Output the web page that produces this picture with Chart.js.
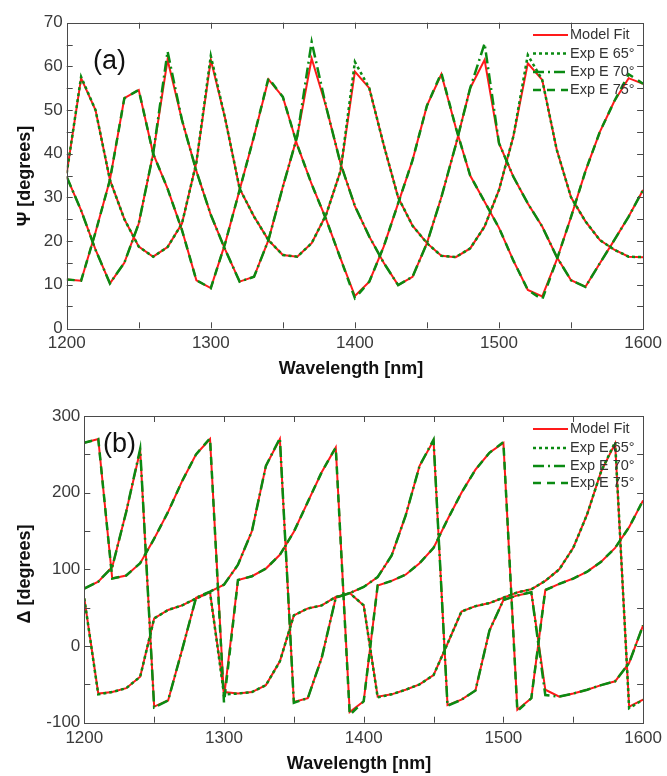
<!DOCTYPE html>
<html>
<head>
<meta charset="utf-8">
<script src="https://cdn.jsdelivr.net/npm/chart.js@4.4.1/dist/chart.umd.min.js"></script>
<style>
  body { margin: 0; background: #fff; width: 667px; height: 776px; position: relative; overflow: hidden; }
  .panel { position: absolute; left: 0; width: 667px; }
</style>
</head>
<body>
<div class="panel" style="top:0;height:385px"><canvas id="psiChart"></canvas></div>
<div class="panel" style="top:385px;height:391px"><canvas id="deltaChart"></canvas></div>
<script>
// wavelength grid (nm)
const wavelength = [1200, 1210, 1220, 1230, 1240, 1250, 1260, 1270, 1280, 1290, 1300,
  1310, 1320, 1330, 1340, 1350, 1360, 1370, 1380, 1390, 1400,
  1410, 1420, 1430, 1440, 1450, 1460, 1470, 1480, 1490, 1500,
  1510, 1520, 1530, 1540, 1550, 1560, 1570, 1580, 1590, 1600];

// Psi, model fit
const psiFit65 = [35.5, 57.3, 50, 34, 25, 18.7, 16.4, 18.6, 24, 38, 61.5,
  48, 32, 25.6, 20.2, 16.8, 16.4, 19.5, 26, 36, 58.8,
  55, 42, 30, 23.5, 19.5, 16.6, 16.3, 18.3, 23.3, 31.7,
  44, 60.7, 56.9, 41, 30, 24.5, 20.2, 18, 16.4, 16.3];
const psiFit70 = [34.7, 27, 18, 10.3, 15, 24, 40, 61.5, 47.7, 36, 26,
  18, 10.7, 11.8, 20.2, 32.4, 44, 61.8, 50.8, 37.8, 28,
  21, 15, 9.9, 11.8, 19.5, 30, 42, 55, 61.5, 42.4,
  34.7, 28.6, 23.3, 16.4, 11, 9.5, 14.9, 20.2, 25.6, 31.7];
const psiFit75 = [11.2, 10.9, 22, 34, 52.7, 54.6, 40, 32, 22.5, 11, 9.2,
  19.5, 31.7, 44, 57, 53, 42, 33, 25, 16, 7.4,
  10.7, 18.7, 28.6, 38.5, 51, 58.2, 46, 35, 29, 23,
  15.5, 8.8, 7.3, 15.6, 25.5, 36, 45, 52, 57.3, 56];

// Psi, experiment
const psiExp65 = [35.5, 57.6, 50, 34, 25, 18.7, 16.4, 18.6, 24, 38, 62.4,
  48, 32, 25.6, 20.2, 16.8, 16.4, 19.5, 26, 36, 61,
  55, 42, 30, 23.5, 19.5, 16.6, 16.3, 18.3, 23.3, 31.7,
  44, 62.6, 56.9, 41, 30, 24.5, 20.2, 18, 16.4, 16.3];
const psiExp70 = [34.7, 27, 18, 10.3, 15, 24, 40, 63.4, 47.7, 36, 26,
  18, 10.7, 11.8, 20.2, 32.4, 44, 65.6, 50.8, 37.8, 28,
  21, 15, 9.9, 11.8, 19.5, 30, 42, 55, 65.2, 42.4,
  34.7, 28.6, 23.3, 16.4, 11, 9.5, 14.9, 20.2, 25.6, 31.7];
const psiExp75 = [11.2, 10.9, 22, 34, 52.7, 54.6, 40, 32, 22.5, 11, 9.2,
  19.5, 31.7, 44, 57.3, 53, 42, 33, 25, 16, 6.9,
  10.7, 18.7, 28.6, 38.5, 51, 58.5, 46, 35, 29, 23,
  15.5, 8.8, 6.6, 15.6, 25.5, 36, 45, 52, 58.2, 56];

// Delta, model fit
const deltaFit65 = [62, -62, -60, -55, -40, 36, 47, 53, 62, 70, -60,
  -62, -60, -51, -20, 40, 49, 53, 64, 69, 53,
  -66, -63, -57, -50, -38, 3, 45, 52, 56, 63,
  70, 74, 85, 100, 128, 172, 228, 264, -79, -70];
const deltaFit70 = [75, 84, 103, 175, 255, -79, -71, -5, 63, 71, 80,
  106, 150, 235, 270, -73, -68, -15, 63, 69, 77,
  90, 118, 170, 235, 268, -77, -70, -58, 20, 60,
  66, 70, -57, -66, -62, -57, -51, -46, -22, 27];
const deltaFit75 = [265, 270, 88, 92, 108, 140, 175, 215, 250, 270, -67,
  86, 91, 101, 119, 149, 188, 227, 259, -86, -72,
  79, 85, 93, 108, 128, 165, 200, 230, 252, 265,
  -83, -68, 73, 81, 88, 97, 110, 128, 155, 190];

// Delta, experiment
const deltaExp65 = [62, -63, -60, -55, -40, 36, 47, 53, 62, 70, -63,
  -62, -60, -51, -20, 40, 49, 53, 64, 69, 53,
  -67, -63, -57, -50, -38, 3, 45, 52, 56, 63,
  70, 74, 85, 100, 128, 172, 228, 266, -81, -70];
const deltaExp70 = [75, 84, 103, 175, 257, -80, -71, -5, 63, 71, 80,
  106, 150, 235, 271, -74, -68, -15, 63, 69, 77,
  90, 118, 170, 235, 269, -78, -70, -58, 20, 60,
  66, 70, -64, -66, -62, -57, -51, -46, -22, 27];
const deltaExp75 = [265, 270, 88, 92, 108, 140, 175, 215, 250, 271, -74,
  86, 91, 101, 119, 149, 188, 227, 259, -90, -72,
  79, 85, 93, 108, 128, 165, 200, 230, 252, 266,
  -85, -68, 73, 81, 88, 97, 110, 128, 155, 190];

// axis ticks
const xLabelStep = 100;
const xTickMarks = [1250, 1300, 1350, 1400, 1450, 1500, 1550];
const psiTickMarks = [5, 10, 15, 20, 25, 30, 35, 40, 45, 50, 55, 60, 65];
const deltaTickMarks = [-50, 0, 50, 100, 150, 200, 250];
const legendLabels = ['Model Fit', 'Exp E 65°', 'Exp E 70°', 'Exp E 75°'];

const RED = '#ff1a1a';
const GREEN = '#0a8a12';
const FONT = '"Liberation Sans", Arial, sans-serif';

function series(ys) {
  return ys.map((y, i) => ({ x: wavelength[i], y: y }));
}

function makeDatasets(e65, e70, e75, f65, f70, f75) {
  const line = { pointRadius: 0, fill: false, tension: 0 };
  // green first so it sits on top of the red fit
  return [
    Object.assign({ label: 'Exp E 65°', data: series(e65), borderColor: GREEN, borderWidth: 2.5, borderDash: [3, 3] }, line),
    Object.assign({ label: 'Exp E 70°', data: series(e70), borderColor: GREEN, borderWidth: 2.5, borderDash: [11, 4, 2, 4] }, line),
    Object.assign({ label: 'Exp E 75°', data: series(e75), borderColor: GREEN, borderWidth: 2.5, borderDash: [8, 6] }, line),
    Object.assign({ label: 'Model Fit', data: series(f65), borderColor: RED, borderWidth: 2 }, line),
    Object.assign({ label: 'Model Fit', data: series(f70), borderColor: RED, borderWidth: 2 }, line),
    Object.assign({ label: 'Model Fit', data: series(f75), borderColor: RED, borderWidth: 2 }, line)
  ];
}

// box, inward ticks, titles, panel tag and legend
const decorPlugin = {
  id: 'decor',
  afterDatasetsDraw(chart, args, o) {
    const ctx = chart.ctx;
    const a = chart.chartArea;
    const xs = chart.scales.x, ys = chart.scales.y;
    ctx.save();
    ctx.strokeStyle = '#4a4a4a';
    ctx.lineWidth = 1;
    ctx.setLineDash([]);
    ctx.strokeRect(Math.round(a.left) + 0.5, Math.round(a.top) + 0.5,
      Math.round(a.right - a.left), Math.round(a.bottom - a.top));
    ctx.beginPath();
    xTickMarks.forEach(v => {
      const px = Math.round(xs.getPixelForValue(v)) + 0.5;
      ctx.moveTo(px, a.bottom); ctx.lineTo(px, a.bottom - 6);
      ctx.moveTo(px, a.top); ctx.lineTo(px, a.top + 6);
    });
    o.yMarks.forEach(v => {
      const py = Math.round(ys.getPixelForValue(v)) + 0.5;
      ctx.moveTo(a.left, py); ctx.lineTo(a.left + 6, py);
      ctx.moveTo(a.right, py); ctx.lineTo(a.right - 6, py);
    });
    ctx.stroke();

    // axis titles
    ctx.fillStyle = '#111';
    ctx.font = 'bold 18px ' + FONT;
    ctx.textAlign = 'center';
    ctx.textBaseline = 'middle';
    ctx.fillText('Wavelength [nm]', o.xTitle[0], o.xTitle[1]);
    ctx.save();
    ctx.translate(o.yTitle[0], o.yTitle[1]);
    ctx.rotate(-Math.PI / 2);
    ctx.fillText(o.yTitleText, 0, 0);
    ctx.restore();

    // panel tag
    ctx.font = '27px ' + FONT;
    ctx.textAlign = 'left';
    ctx.fillText(o.tag, o.tagPos[0], o.tagPos[1]);

    // legend
    ctx.font = '14.5px ' + FONT;
    ctx.fillStyle = '#333';
    legendLabels.forEach((lab, i) => {
      const ds = chart.data.datasets.find(d => d.label === lab);
      const y = o.legendY[i];
      ctx.beginPath();
      ctx.strokeStyle = ds.borderColor;
      ctx.lineWidth = ds.borderWidth;
      ctx.setLineDash(ds.borderDash || []);
      ctx.moveTo(533, y); ctx.lineTo(568, y);
      ctx.stroke();
      ctx.fillText(lab, 570, y);
    });
    ctx.restore();
  }
};

function makeChart(id, datasets, yMin, yMax, yStep, pad, yWidth, xHeight, decor) {
  const tickFont = { size: 17, family: FONT };
  return new Chart(document.getElementById(id).getContext('2d'), {
    type: 'line',
    data: { datasets: datasets },
    options: {
      responsive: true,
      maintainAspectRatio: false,
      animation: false,
      devicePixelRatio: 1,
      layout: { padding: pad },
      plugins: { legend: { display: false }, tooltip: { enabled: false }, decor: decor },
      scales: {
        x: {
          type: 'linear', min: 1200, max: 1600,
          grid: { display: false, drawTicks: false },
          border: { display: false },
          ticks: { stepSize: xLabelStep, padding: 5, color: '#3a3a3a', font: tickFont,
            maxRotation: 0, autoSkip: false, callback: v => String(v) },
          afterFit: s => { s.height = xHeight; }
        },
        y: {
          min: yMin, max: yMax,
          grid: { display: false, drawTicks: false },
          border: { display: false },
          ticks: { stepSize: yStep, padding: 4, color: '#3a3a3a', font: tickFont,
            callback: v => String(v) },
          afterFit: s => { s.width = yWidth; }
        }
      }
    },
    plugins: [decorPlugin]
  });
}

makeChart('psiChart',
  makeDatasets(psiExp65, psiExp70, psiExp75, psiFit65, psiFit70, psiFit75),
  0, 70, 10, { left: 0, right: 22, top: 22.7, bottom: 0 }, 66.7, 56.7,
  { yMarks: psiTickMarks, xTitle: [351, 369], yTitle: [25, 176], yTitleText: 'Ψ [degrees]',
    tag: '(a)', tagPos: [93, 62], legendY: [35, 53.5, 72, 90] });

makeChart('deltaChart',
  makeDatasets(deltaExp65, deltaExp70, deltaExp75, deltaFit65, deltaFit70, deltaFit75),
  -100, 300, 100, { left: 0, right: 22.7, top: 31, bottom: 0 }, 84.3, 53.3,
  { yMarks: deltaTickMarks, xTitle: [359, 379], yTitle: [25.5, 189], yTitleText: 'Δ [degrees]',
    tag: '(b)', tagPos: [103, 60], legendY: [44, 63, 81, 98] });
</script>
</body>
</html>
